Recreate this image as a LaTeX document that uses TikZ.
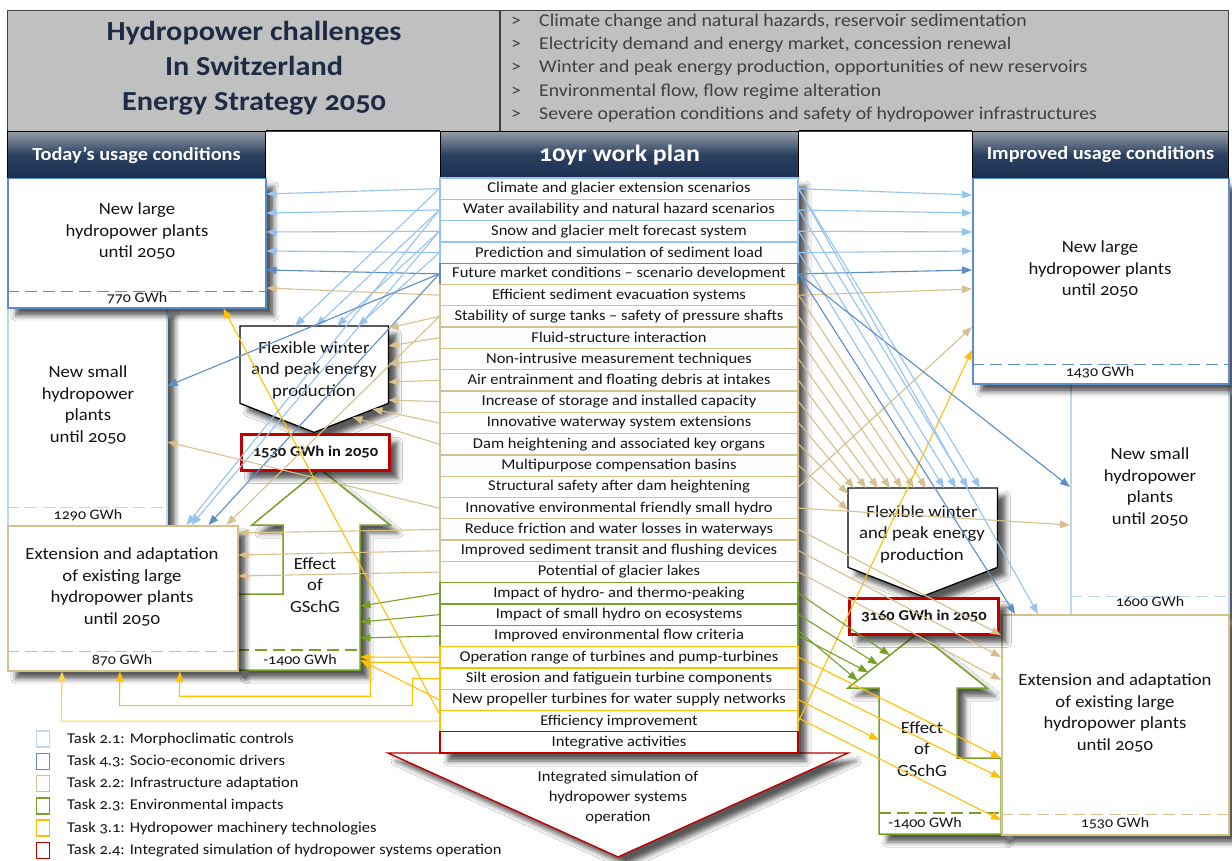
\documentclass[tikz,border=0pt]{standalone}
\usepackage{fontspec}
\setmainfont{Carlito}[Numbers=OldStyle, FakeStretch=1.1]
\usetikzlibrary{arrows.meta,shadows.blur,calc}
\definecolor{cLB}{RGB}{150,195,240}
\definecolor{cLBb}{RGB}{189,215,238}
\definecolor{cSB}{RGB}{91,141,200}
\definecolor{cTan}{RGB}{216,192,140}
\definecolor{cGr}{RGB}{119,160,40}
\definecolor{cYe}{RGB}{255,192,0}
\definecolor{cRd}{RGB}{192,0,0}
\definecolor{cNavy}{RGB}{28,48,80}
\definecolor{cNavyM}{RGB}{42,64,96}
\definecolor{cHdrTop}{RGB}{150,156,166}
\definecolor{cTitle}{RGB}{31,42,68}
\definecolor{cTxt}{RGB}{20,20,20}
\definecolor{cBul}{RGB}{64,64,64}
\definecolor{cGrayBox}{RGB}{192,192,192}
\tikzset{
  shd/.style={blur shadow={shadow xshift=8pt, shadow yshift=-8pt, shadow blur radius=5pt, shadow opacity=65}},
  bx/.style={draw=#1, line width=1.5pt, fill=white, shd, rectangle, inner sep=0pt, anchor=north west},
  ghost/.style={rectangle, inner sep=0pt, anchor=north west},
  itembox/.style={draw=#1, line width=1.3pt, fill=white, minimum width=358pt, minimum height=21.3pt, inner sep=0pt, font=\fontsize{15}{16}\selectfont, text=cTxt},
  hdr/.style={draw=black, line width=1pt, top color=cHdrTop, bottom color=cNavy, middle color=cNavyM, text=white, anchor=north west, minimum height=47pt, inner sep=0pt},
  lbl/.style={font=\fontsize{17}{21.5}\selectfont, align=center, text=cTxt},
  gwh/.style={font=\fontsize{14.5}{16}\selectfont, text=cTxt},
  redbox/.style={draw=cRd, line width=3pt, fill=white, shd, anchor=north west, inner sep=0pt, font=\bfseries\fontsize{15}{16}\selectfont, text=cTxt},
  arw/.style={#1, line width=1.1pt, -{Triangle[length=10pt,width=7.5pt]}},
}
\begin{document}
\begin{tikzpicture}[x=1pt,y=-1pt]
\useasboundingbox (0,0) rectangle (1232,861);
\fill[white] (0,0) rectangle (1232,861);

% ---------- title box ----------
\node[draw=gray!50!black, line width=1.2pt, fill=cGrayBox, anchor=north west, minimum width=1221pt, minimum height=121pt, inner sep=0pt] (top) at (7,10) {};
\draw[gray!50!black, line width=1.2pt] ([xshift=493pt]top.north west) -- ([xshift=493pt]top.south west);
\node[align=center, font=\bfseries\fontsize{27.5}{35}\selectfont, text=cTitle] (ttl) at (254,68) {Hydropower challenges\\In Switzerland\\Energy Strategy 2050};
\node[align=left, anchor=west, inner sep=0pt, font=\fontsize{18}{23.25}\selectfont, text=cBul] (bul) at (511,68) {%
\makebox[28pt][l]{>}Climate change and natural hazards, reservoir sedimentation\\
\makebox[28pt][l]{>}Electricity demand and energy market, concession renewal\\
\makebox[28pt][l]{>}Winter and peak energy production, opportunities of new reservoirs\\
\makebox[28pt][l]{>}Environmental flow, flow regime alteration\\
\makebox[28pt][l]{>}Severe operation conditions and safety of hydropower infrastructures};

% ---------- headers ----------
\node[hdr, minimum width=258pt, font=\bfseries\fontsize{18.5}{20}\selectfont] (hL) at (7,131) {Today’s usage conditions};
\node[hdr, minimum width=358pt, font=\bfseries\fontsize{23.5}{26}\selectfont] (hM) at (440,131) {10yr work plan};
\node[hdr, minimum width=256pt, font=\bfseries\fontsize{18.5}{20}\selectfont] (hR) at (972,131) {Improved usage conditions};
\draw[black, line width=1pt] (hL.north east) -- (hM.north west);
\draw[black, line width=1pt] (hM.north east) -- (hR.north west);

% ---------- left column ----------
\node[bx=cLBb, minimum width=159pt, minimum height=218pt] (lns) at (7,307) {};
\draw[cLBb, line width=1.5pt, dash pattern=on 12pt off 6pt] ([yshift=19pt]lns.south west) -- ([yshift=19pt]lns.south east);
\node[lbl] (lnsT) at (88,405) {New small\\hydropower\\plants\\until 2050};
\node[gwh] (lnsG) at (88,515) {1290 GWh};

\node[bx=cSB, minimum width=258pt, minimum height=129pt] (lnl) at (7,178) {};
\draw[cSB, line width=1.5pt, dash pattern=on 12pt off 6pt] ([yshift=17pt]lnl.south west) -- ([yshift=17pt]lnl.south east);
\node[lbl] (lnlT) at (137,231) {New large\\hydropower plants\\until 2050};
\node[gwh] (lnlG) at (137,298) {770 GWh};

% green effect left
\draw[cGr, line width=1.5pt, fill=white, shd] (237,594) -- (283,594) -- (283,525) -- (252,525) -- (320,469) -- (390,525) -- (360,525) -- (360,670) -- (237,670) -- cycle;
\node[ghost, minimum width=77pt, minimum height=145pt] (eLs) at (283,525) {};
\draw[cGr, line width=1.5pt, dash pattern=on 12pt off 6pt] (237,650) -- (eLs.east |- 0,650);
\node[lbl] (eLt) at (315,585) {Effect\\of\\GSchG};
\node[gwh] (eLg) at (300,660) {-1400 GWh};

\node[bx=cTan, minimum width=230pt, minimum height=145pt] (lext) at (7,525) {};
\draw[cTan, line width=1.5pt, dash pattern=on 12pt off 6pt] ([yshift=20pt]lext.south west) -- ([yshift=20pt]lext.south east);
\node[lbl] (lextT) at (122,587) {Extension and adaptation\\of existing large\\hydropower plants\\until 2050};
\node[gwh] (lextG) at (122,660) {870 GWh};

% left pentagon + red box
\node[ghost, minimum width=148pt, minimum height=106pt] (pL) at (240,326) {};
\draw[black, line width=1.3pt, fill=white, shd] (pL.north west) -- (pL.north east) -- ([yshift=29pt]pL.south east) -- (pL.south) -- ([yshift=29pt]pL.south west) -- cycle;
\node[lbl] (pLt) at (314,370) {Flexible winter\\and peak energy\\production};
\node[redbox, minimum width=148pt, minimum height=36pt] (rL) at (240,433) {1530 GWh in 2050};

% ---------- right column ----------
\node[bx=cLBb, minimum width=158pt, minimum height=231pt] (rns) at (1070,383) {};
\draw[cLBb, line width=1.5pt, dash pattern=on 12pt off 6pt] ([yshift=19pt]rns.south west) -- ([yshift=19pt]rns.south east);
\node[lbl] (rnsT) at (1150,487) {New small\\hydropower\\plants\\until 2050};
\node[gwh] (rnsG) at (1150,602) {1600 GWh};

\node[bx=cSB, minimum width=256pt, minimum height=205pt] (rnl) at (972,178) {};
\draw[cSB, line width=1.5pt, dash pattern=on 12pt off 6pt] ([yshift=20pt]rnl.south west) -- ([yshift=20pt]rnl.south east);
\node[lbl] (rnlT) at (1100,269) {New large\\hydropower plants\\until 2050};
\node[gwh] (rnlG) at (1100,372) {1430 GWh};

% green effect right
\draw[cGr, line width=1.5pt, fill=white, shd] (879,834) -- (879,688) -- (848,688) -- (918,633) -- (987,688) -- (957,688) -- (957,758) -- (1001,758) -- (1001,834) -- cycle;
\node[ghost, minimum width=78pt, minimum height=146pt] (gRs) at (879,688) {};
\node[ghost, minimum width=139pt, minimum height=55pt] (gRh) at (848,633) {};
\draw[cGr, line width=1.5pt, dash pattern=on 12pt off 6pt] (gRs.west |- 0,813) -- (1001,813);
\node[lbl] (eRt) at (922,749) {Effect\\of\\GSchG};
\node[gwh] (eRg) at (925,823) {-1400 GWh};

\node[bx=cTan, minimum width=227pt, minimum height=220pt] (rext) at (1001,614) {};
\draw[cTan, line width=1.5pt, dash pattern=on 12pt off 6pt] ([yshift=21pt]rext.south west) -- ([yshift=21pt]rext.south east);
\node[lbl] (rextT) at (1115,713) {Extension and adaptation\\of existing large\\hydropower plants\\until 2050};
\node[gwh] (rextG) at (1115,823) {1530 GWh};

% right pentagon + red box
\node[ghost, minimum width=149pt, minimum height=108pt] (pR) at (848,488) {};
\draw[black, line width=1.3pt, fill=white, shd] (pR.north west) -- (pR.north east) -- ([yshift=29pt]pR.south east) -- (pR.south) -- ([yshift=29pt]pR.south west) -- cycle;
\node[lbl] (pRt) at (922,534) {Flexible winter\\and peak energy\\production};
\node[redbox, minimum width=149pt, minimum height=36pt] (rR) at (848,597) {3160 GWh in 2050};

% ---------- bottom triangle ----------
\draw[cRd, line width=1.4pt, fill=white, shd] (388,753) -- (848,753) -- (618,857) -- cycle;
\node[font=\fontsize{15}{20}\selectfont, align=center, text=cTxt] (tri) at (618,797) {Integrated simulation of\\hydropower systems\\operation};

% ---------- work plan list ----------
\path[fill=white, shd] (440,178) rectangle (798,753);
\foreach \c/\t [count=\i] in {
 cLB/{Climate and glacier extension scenarios},
 cLB/{Water availability and natural hazard scenarios},
 cLB/{Snow and glacier melt forecast system},
 cLB/{Prediction and simulation of sediment load},
 cSB/{Future market conditions – scenario development},
 cTan/{Efficient sediment evacuation systems},
 cTan/{Stability of surge tanks – safety of pressure shafts},
 cTan/{Fluid-structure interaction},
 cTan/{Non-intrusive measurement techniques},
 cTan/{Air entrainment and floating debris at intakes},
 cTan/{Increase of storage and installed capacity},
 cTan/{Innovative waterway system extensions},
 cTan/{Dam heightening and associated key organs},
 cTan/{Multipurpose compensation basins},
 cTan/{Structural safety after dam heightening},
 cTan/{Innovative environmental friendly small hydro},
 cTan/{Reduce friction and water losses in waterways},
 cTan/{Improved sediment transit and flushing devices},
 cTan/{Potential of glacier lakes},
 cGr/{Impact of hydro- and thermo-peaking},
 cGr/{Impact of small hydro on ecosystems},
 cGr/{Improved environmental flow criteria},
 cYe/{Operation range of turbines and pump-turbines},
 cYe/{Silt erosion and fatiguein turbine components},
 cYe/{New propeller turbines for water supply networks},
 cYe/{Efficiency improvement},
 cRd/{Integrative activities}}
 { \node[itembox=\c] (it\i) at (619,{178+21.3*(\i-0.5)}) {\t}; }

% ---------- legend ----------
\foreach \c/\t [count=\i] in {
 cLBb/{Task 2.1: Morphoclimatic controls},
 cSB/{Task 4.3: Socio-economic drivers},
 cTan/{Task 2.2: Infrastructure adaptation},
 cGr/{Task 2.3: Environmental impacts},
 cYe/{Task 3.1: Hydropower machinery technologies},
 cRd/{Task 2.4: Integrated simulation of hydropower systems operation}}
 { \node[draw=\c, line width=1.6pt, minimum width=13pt, minimum height=16pt, inner sep=0pt] (lg\i) at (43,{739+22.3*(\i-1)}) {};
   \node[anchor=west, inner sep=0pt, font=\fontsize{15}{16}\selectfont, text=cTxt] (lt\i) at (67,{739+22.3*(\i-1)}) {\t}; }

% ---------- connectors: left side ----------
\draw[arw=cLB] (it1.west) -- ([yshift=-16pt]lnl.north east);
\draw[arw=cLB] (it2.west) -- ([yshift=-35pt]lnl.north east);
\draw[arw=cLB] (it3.west) -- ([yshift=-54pt]lnl.north east);
\draw[arw=cLB] (it4.west) -- ([yshift=-73pt]lnl.north east);
\draw[arw=cSB] (it5.west) -- ([yshift=-92pt]lnl.north east);
\draw[arw=cTan] (it6.west) -- ([yshift=-110pt]lnl.north east);

\draw[arw=cLB] (it1.west) -- ([xshift=55pt]pL.north west);
\draw[arw=cLB] (it2.west) -- ([xshift=76pt]pL.north west);
\draw[arw=cLB] (it3.west) -- ([xshift=97pt]pL.north west);
\draw[arw=cLB] (it4.west) -- ([xshift=118pt]pL.north west);

\draw[arw=cLB] (it2.west) -- ([xshift=-52pt]lext.north east);
\draw[arw=cLB] (it3.west) -- ([xshift=-47pt]lext.north east);
\draw[arw=cSB] (it5.west) -- ([xshift=-30pt]lext.north east);
\draw[arw=cTan] (it7.west) -- ([xshift=-12pt]lext.north east);

\draw[arw=cSB] (it5.west) -- ([yshift=-79pt]lns.north east);
\draw[arw=cTan] (it16.west) -- ([yshift=-135pt]lns.north east);

\draw[arw=cTan] (it7.west) -- ([yshift=-2pt]pL.north east);
\draw[arw=cTan] (it8.west) -- ([yshift=-20pt]pL.north east);
\draw[arw=cTan] (it9.west) -- ([yshift=-38pt]pL.north east);
\draw[arw=cTan] (it10.west) -- ([yshift=-56pt]pL.north east);
\draw[arw=cTan] (it11.west) -- ([yshift=-74pt]pL.north east);
\draw[arw=cTan] (it12.west) -- ([xshift=-16pt,yshift=-83pt]pL.north east);
\draw[arw=cTan] (it13.west) -- ([xshift=-36pt,yshift=-91pt]pL.north east);

\draw[arw=cTan] (it17.west) -- ([yshift=-8pt]lext.north east);
\draw[arw=cTan] (it18.west) -- ([yshift=-30pt]lext.north east);
\draw[arw=cTan] (it19.west) -- ([yshift=-51pt]lext.north east);

\draw[arw=cGr] (it20.west) -- ([yshift=-81pt]eLs.north east);
\draw[arw=cGr] (it21.west) -- ([yshift=-97pt]eLs.north east);
\draw[arw=cGr] (it22.west) -- ([yshift=-113pt]eLs.north east);

\draw[arw=cYe] (it23.west) -- ([yshift=-132pt]eLs.north east);
\draw[arw=cYe] (it25.west) -- ([yshift=-135pt]eLs.north east);
\draw[arw=cYe] ([yshift=-5pt]it23.west) -- ++(-69,0) -- ++(0,34) -- ++(-191,0) -- ([xshift=173pt]lext.south west);
\draw[arw=cYe] (it24.west) -- ++(-27,0) -- ++(0,27) -- ++(-293,0) -- ([xshift=113pt]lext.south west);
\draw[arw=cYe!70] (it26.west) -- ++(-378,0) -- ([xshift=55pt]lext.south west);
\draw[arw=cYe] ([yshift=-4pt]it26.north west) -- ([xshift=-43pt]lnl.south east);

% ---------- connectors: right side ----------
\draw[arw=cLB] (it1.east) -- ([yshift=-17pt]rnl.north west);
\draw[arw=cLB] (it2.east) -- ([yshift=-35pt]rnl.north west);
\draw[arw=cLB] (it3.east) -- ([yshift=-54pt]rnl.north west);
\draw[arw=cLB] (it4.east) -- ([yshift=-73pt]rnl.north west);
\draw[arw=cSB] (it5.east) -- ([yshift=-92pt]rnl.north west);
\draw[arw=cTan] (it6.east) -- ([yshift=-111pt]rnl.north west);
\draw[arw=cTan] (it15.east) -- ([yshift=-149pt]rnl.north west);
\draw[arw=cYe] (it26.east) -- ([yshift=-172pt]rnl.north west);

\draw[arw=cLB] (it1.east) -- ([xshift=132pt]pR.north west);
\draw[arw=cLB] (it2.east) -- ([xshift=120pt]pR.north west);
\draw[arw=cLB] (it3.east) -- ([xshift=108pt]pR.north west);
\draw[arw=cLB] (it4.east) -- ([xshift=96pt]pR.north west);
\draw[arw=cTan] (it6.east) -- ([xshift=78pt]pR.north west);
\draw[arw=cTan] (it7.east) -- ([xshift=66pt]pR.north west);
\draw[arw=cTan] (it8.east) -- ([xshift=54pt]pR.north west);
\draw[arw=cTan] (it9.east) -- ([xshift=42pt]pR.north west);
\draw[arw=cTan] (it10.east) -- ([xshift=30pt]pR.north west);
\draw[arw=cTan] (it11.east) -- ([xshift=18pt]pR.north west);
\draw[arw=cTan] (it12.east) -- ([xshift=6pt]pR.north west);
\draw[arw=cTan] (it13.east) -- ([yshift=-6pt]pR.north west);
\draw[arw=cTan] (it14.east) -- ([yshift=-22pt]pR.north west);

\draw[arw=cTan] (it16.east) -- ([yshift=-142pt]rns.north west);
\draw[arw=cSB] (it5.east) -- ([yshift=-104pt]rns.north west);
\draw[arw=cSB] (it5.east) -- ([xshift=14pt]rext.north west);
\draw[arw=cLB] (it1.east) -- ([xshift=37pt]rext.north west);

\draw[arw=cTan] (it17.east) -- ([yshift=-21pt]rext.north west);
\draw[arw=cTan] (it18.east) -- ([yshift=-43pt]rext.north west);
\draw[arw=cTan] (it19.east) -- ([yshift=-66pt]rext.north west);

\draw[arw=cGr] (it20.east) -- ($(gRh.south west)!0.6!(gRh.north)$);
\draw[arw=cGr] (it21.east) -- ($(gRh.south west)!0.43!(gRh.north)$);
\draw[arw=cGr] (it22.east) -- ($(gRh.south west)!0.29!(gRh.north)$);
\draw[arw=cGr] ([yshift=5pt]it22.east) -- ($(gRh.south west)!0.14!(gRh.north)$);

\draw[arw=cYe] (it23.east) -- ([yshift=-144pt]rext.north west);
\draw[arw=cYe] (it24.east) -- ([yshift=-164pt]rext.north west);
\draw[arw=cYe] (it25.east) -- ([yshift=-52pt]gRs.north west);
\draw[arw=cYe] ([yshift=3pt]it26.east) -- ([yshift=-206pt]rext.north west);
\end{tikzpicture}
\end{document}
